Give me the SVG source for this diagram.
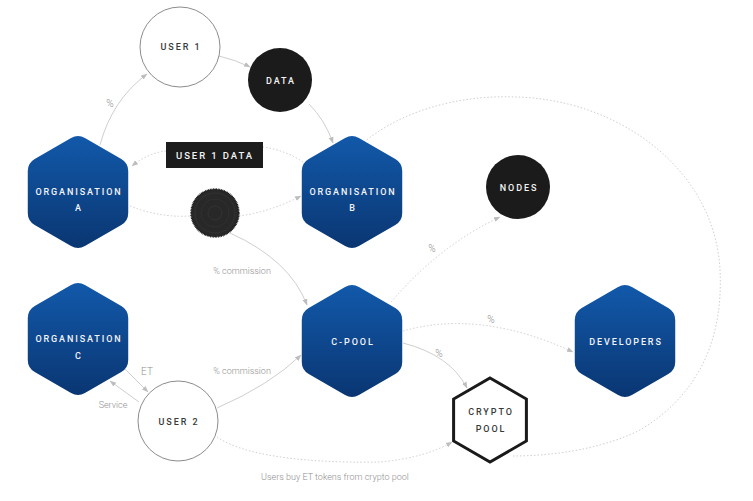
<svg xmlns="http://www.w3.org/2000/svg" xmlns:xlink="http://www.w3.org/1999/xlink" width="753" height="501" viewBox="0 0 753 501">
<style>
.c{fill:none;stroke:#cfcfcf;stroke-width:1}
.d{stroke-dasharray:1.5 2}
.a{marker-end:url(#arr)}
.nw{font-family:Roboto,"DejaVu Sans",sans-serif;font-weight:500;font-size:9px;letter-spacing:1.9px;fill:#f4f4f4;text-anchor:middle}
.nk{font-family:Roboto,"DejaVu Sans",sans-serif;font-weight:500;font-size:9px;letter-spacing:1.9px;fill:#3a3a3a;text-anchor:middle}
.lb{font-family:Roboto,"DejaVu Sans",sans-serif;font-weight:300;font-size:9px;fill:#8f8f8f;text-anchor:middle}
.pc{font-size:10px}
</style>
<defs>
<linearGradient id="blue" x1="0" y1="0" x2="0" y2="1">
<stop offset="0" stop-color="#1259aa"/>
<stop offset="1" stop-color="#0a3672"/>
</linearGradient>
<path id="hex" d="M6.93,-54 L43.3,-33 Q50.23,-29 50.23,-21 L50.23,21 Q50.23,29 43.3,33 L6.93,54 Q0,58 -6.93,54 L-43.3,33 Q-50.23,29 -50.23,21 L-50.23,-21 Q-50.23,-29 -43.3,-33 L-6.93,-54 Q0,-58 6.93,-54 Z"/>
<marker id="arr" markerWidth="7" markerHeight="6" refX="6" refY="3" orient="auto" markerUnits="userSpaceOnUse">
<path d="M0,0.5 L6.5,3 L0,5.5 Z" fill="#bdbdbd"/>
</marker>
</defs>
<rect width="753" height="501" fill="#ffffff"/>

<g id="connectors">
<path class="c a" d="M100,145 Q112,100 147,74"/>
<path class="c a" d="M219,56 Q236,60 250,67"/>
<path class="c a" d="M309,104 Q325,120 333,143"/>
<path class="c d" d="M303,162 Q285,150 263,147"/>
<path class="c d a" d="M166,151 Q148,153 132,166"/>
<path class="c d" d="M130,206 Q160,218 191,216"/>
<path class="c d a" d="M239,216 Q270,212 301,196"/>
<path class="c a" d="M230,233 Q290,260 307,305"/>
<path class="c a" d="M122,366 L148,392"/>
<path class="c a" d="M139,402 L110,381"/>
<path class="c a" d="M217,408 Q270,385 301,355"/>
<path class="c d a" d="M217,437 C250,460 330,463 380,462 Q425,458 452,442"/>
<path class="c d a" d="M391,302 Q440,245 500,217"/>
<path class="c d a" d="M403,331 Q480,309 573,352"/>
<path class="c a" d="M403,343 Q450,355 467,388"/>
<path class="c d" d="M364,142 C410,105 470,95 517,97 C620,100 715,170 720,270 C724,350 690,400 640,430 C600,450 550,456 512,456"/>
</g>

<g id="labels">
<text class="lb pc" x="110" y="107">%</text>
<text class="lb" x="242" y="274">% commission</text>
<text class="lb pc" x="147" y="375">ET</text>
<text class="lb" x="113" y="408">Service</text>
<text class="lb" x="242" y="374">% commission</text>
<text class="lb" x="335" y="480">Users buy ET tokens from crypto pool</text>
<text class="lb pc" x="432" y="252">%</text>
<text class="lb pc" x="491" y="323">%</text>
<text class="lb pc" x="439" y="357">%</text>
</g>

<g id="user1">
<circle cx="180" cy="47" r="40" fill="#ffffff" stroke="#8c8c8c" stroke-width="1"/>
<text class="nk" x="181" y="50">USER 1</text>
</g>
<g id="data">
<circle cx="280" cy="80" r="32" fill="#1b1b1b"/>
<text class="nw" x="281" y="83.5">DATA</text>
</g>
<g id="orgA">
<use xlink:href="#hex" x="78" y="192" fill="url(#blue)"/>
<text class="nw" x="79" y="195">ORGANISATION</text>
<text class="nw" x="79" y="211">A</text>
</g>
<g id="user1data">
<rect x="166" y="142" width="97" height="26" fill="#1c1c1c"/>
<text class="nw" x="215" y="158.5" style="font-size:9.5px">USER 1 DATA</text>
</g>
<g id="coin">
<circle cx="215" cy="213" r="24" fill="#282828" stroke="#141414" stroke-width="1.5" stroke-dasharray="0.8 0.8"/>
<circle cx="215" cy="213" r="20" fill="none" stroke="#333333" stroke-width="0.8"/>
<circle cx="215" cy="213" r="14" fill="none" stroke="#313131" stroke-width="0.8"/>
<circle cx="215" cy="213" r="7" fill="none" stroke="#353535" stroke-width="0.8"/>
</g>
<g id="orgB">
<use xlink:href="#hex" x="352" y="192" fill="url(#blue)"/>
<text class="nw" x="353" y="195">ORGANISATION</text>
<text class="nw" x="353" y="211">B</text>
</g>
<g id="nodes">
<circle cx="518" cy="187" r="32" fill="#1b1b1b"/>
<text class="nw" x="519" y="190.5">NODES</text>
</g>
<g id="orgC">
<use xlink:href="#hex" x="78" y="339" fill="url(#blue)"/>
<text class="nw" x="79" y="341.5">ORGANISATION</text>
<text class="nw" x="79" y="358.5">C</text>
</g>
<g id="cpool">
<use xlink:href="#hex" x="352" y="341" fill="url(#blue)"/>
<text class="nw" x="353" y="345">C-POOL</text>
</g>
<g id="developers">
<use xlink:href="#hex" x="625" y="341" fill="url(#blue)"/>
<text class="nw" x="626" y="344.5">DEVELOPERS</text>
</g>
<g id="user2">
<circle cx="178" cy="421" r="40" fill="#ffffff" stroke="#8c8c8c" stroke-width="1"/>
<text class="nk" x="179" y="425">USER 2</text>
</g>
<g id="cryptopool">
<polygon points="490,378 526.4,399 526.4,441 490,462 453.6,441 453.6,399" fill="#ffffff" stroke="#1a1a1a" stroke-width="3"/>
<text class="nk" x="491" y="414.5">CRYPTO</text>
<text class="nk" x="491" y="431.5">POOL</text>
</g>
</svg>
